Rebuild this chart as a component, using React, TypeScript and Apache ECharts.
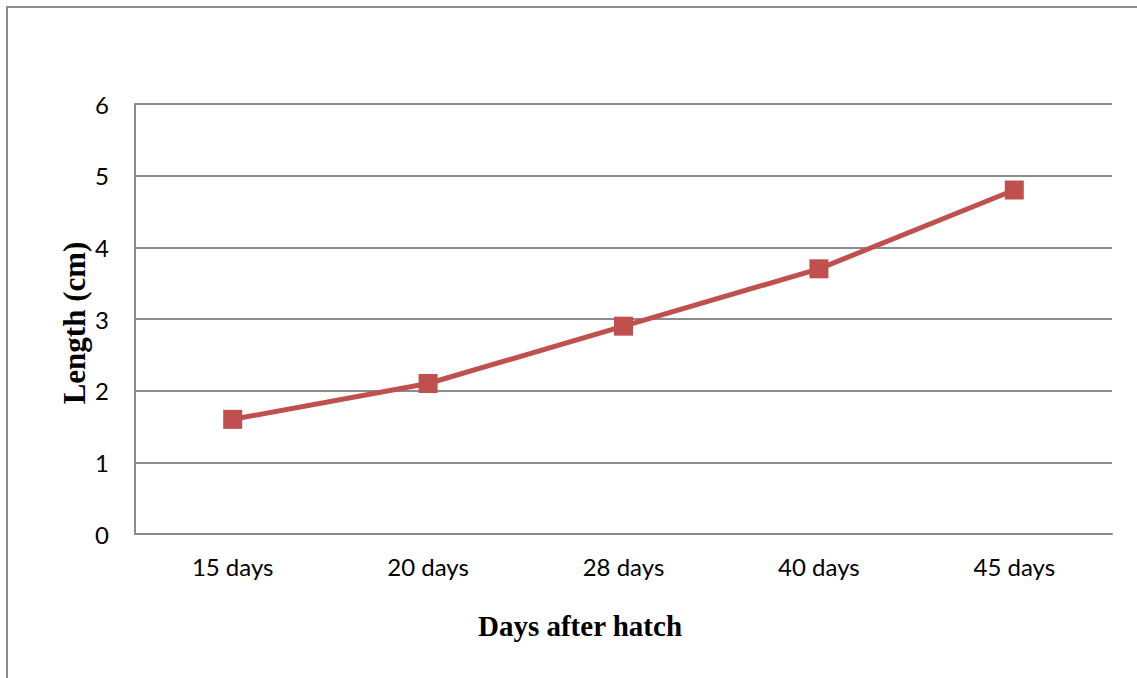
import React, { useEffect, useRef } from "react";
import * as echarts from "echarts";

const categories = ["15 days", "20 days", "28 days", "40 days", "45 days"];
const lengthValues = [1.6, 2.1, 2.9, 3.7, 4.8];
const yTicks = [0, 1, 2, 3, 4, 5, 6];
const xTitle = "Days after hatch";
const yTitle = "Length (cm)";

export default function App() {
  const ref = useRef<HTMLDivElement>(null);
  useEffect(() => {
    if (!ref.current) return;
    const chart = echarts.init(ref.current, null, { renderer: "svg" });
    chart.setOption({
      animation: false,
      backgroundColor: "#ffffff",
      grid: { left: 135, top: 104, right: 25, bottom: 144, containLabel: false },
      xAxis: {
        type: "category",
        data: categories,
        boundaryGap: true,
        axisLine: { show: true, lineStyle: { color: "#8c8c8c", width: 2 } },
        axisTick: { show: false },
        axisLabel: {
          color: "#000",
          fontFamily: "Lato",
          fontSize: 24,
          margin: 20,
        },
        splitLine: { show: false },
      },
      yAxis: {
        type: "value",
        min: yTicks[0],
        max: yTicks[yTicks.length - 1],
        interval: 1,
        axisLine: { show: true, lineStyle: { color: "#8c8c8c", width: 2 } },
        axisTick: { show: false },
        axisLabel: {
          color: "#000",
          fontFamily: "Lato",
          fontSize: 24,
          margin: 26,
        },
        splitLine: { show: true, lineStyle: { color: "#8c8c8c", width: 2 } },
      },
      series: [
        {
          type: "line",
          data: lengthValues,
          symbol: "rect",
          symbolSize: 19,
          lineStyle: { color: "#C0504D", width: 5 },
          itemStyle: { color: "#C0504D" },
          z: 5,
        },
      ],
      graphic: [
        {
          type: "rect",
          shape: { x: 7, y: 7, width: 1200, height: 800 },
          style: { fill: "none", stroke: "#8c8c8c", lineWidth: 2 },
          silent: true,
        },
        {
          type: "text",
          x: 580,
          y: 626,
          style: {
            text: xTitle,
            fontFamily: "Liberation Serif",
            fontWeight: "bold",
            fontSize: 29,
            fill: "#000",
            align: "center",
            verticalAlign: "middle",
          },
        },
        {
          type: "text",
          x: 74,
          y: 323,
          rotation: Math.PI / 2,
          style: {
            text: yTitle,
            fontFamily: "Liberation Serif",
            fontWeight: "bold",
            fontSize: 31,
            fill: "#000",
            align: "center",
            verticalAlign: "middle",
          },
        },
      ],
    });
    return () => chart.dispose();
  }, []);
  return (
    <div
      ref={ref}
      style={{ position: "fixed", left: 0, top: 0, width: 1137, height: 678 }}
    />
  );
}
